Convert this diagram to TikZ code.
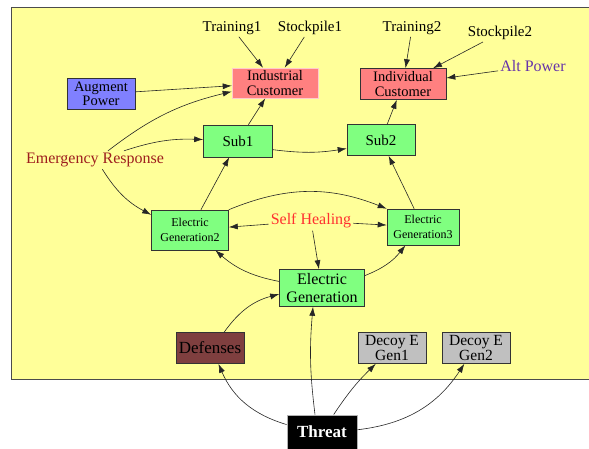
\documentclass[tikz,border=0pt]{standalone}
\usepackage{fontspec}
\setmainfont{Liberation Serif}
\usetikzlibrary{arrows.meta}

\definecolor{bgyellow}{HTML}{FFFF99}
\definecolor{boxgreen}{HTML}{80FF80}
\definecolor{boxpink}{HTML}{FF8080}
\definecolor{boxblue}{HTML}{8080FF}
\definecolor{boxbrown}{HTML}{7F3F3F}
\definecolor{boxgray}{HTML}{C0C0C0}
\definecolor{ertext}{HTML}{9E1E1E}
\definecolor{alttext}{HTML}{6633AA}
\definecolor{shtext}{HTML}{FF3030}

\begin{document}
\begin{tikzpicture}[x=1pt, y=-1pt, node distance=84pt, >={Latex[length=9pt,width=6pt]},
	every node/.style={font=\fontsize{15}{15}\selectfont, align=center, inner sep=2pt},
	box/.style={draw=black!80, line width=0.6pt, inner sep=0pt, minimum width=68pt, minimum height=31pt},
	twoline/.style={font=\fontsize{14.5}{14.5}\selectfont},
	green/.style={box, fill=boxgreen},
	small/.style={font=\fontsize{12}{14.5}\selectfont},
	decoy/.style={box, fill=boxgray, font=\fontsize{15.5}{15}\selectfont}]
		\useasboundingbox (0,0) rectangle (589,448);
		\draw[black!70, fill=bgyellow, line width=0.8pt] (11,7) rectangle (600,379);
		
		\node (t1) at (232,28) {Training1};
		\node (s1) at (310,28) {Stockpile1};
		\node (t2) at (412,28) {Training2};
		\node (s2) at (500,33) {Stockpile2};
		\node[text=alttext, font=\fontsize{16}{16}\selectfont] (alt) at (533,66) {Alt Power};
		\node[box, twoline, fill=boxpink, draw=white!60!boxpink, minimum width=86pt, minimum height=30pt] (ind) at (275,83) {Industrial\\Customer};
		\node[box, twoline, fill=boxpink, minimum width=86pt] (indv) at (403,84) {Individual\\Customer};
		\node[box, twoline, fill=boxblue] (aug) at (101,94) {Augment\\Power};
		\node[green, minimum width=69pt, minimum height=32pt] (sub1) at (238,141) {Sub1};
		\node[green] (sub2) at (381,140) {Sub2};
		\node[text=ertext, font=\fontsize{16}{16}\selectfont] (er) at (95,160) {Emergency Response};
		\node[green, small, minimum width=77pt, minimum height=40pt] (eg2) at (190,230) {Electric\\Generation2};
		\node[text=shtext, font=\fontsize{16}{16}\selectfont] (sh) at (311,221) {Self Healing};
		\node[green, small, minimum width=72pt, minimum height=36pt] (eg3) at (423,227) {Electric\\Generation3};
		\node[green, font=\fontsize{16}{17.5}\selectfont, minimum width=85pt, minimum height=37pt] (eg) at (322,288) {Electric\\Generation};
		\node[box, fill=boxbrown, font=\fontsize{17}{17}\selectfont] (def) at (210,348) {Defenses};
		\node[decoy] (d1) at (392,348) {Decoy E\\Gen1};
		\node[decoy] (d2) [right of=d1] {Decoy E\\Gen2};
		\node[fill=black, draw=gray!60, line width=1pt, text=white, font=\bfseries\fontsize{17}{17}\selectfont,
			minimum width=70pt, minimum height=34pt, inner sep=0pt] (threat) at (322,432) {Threat};
		
		\path[->, line width=0.6pt, black!85]
		(t1) edge (ind)
		(s1) edge (ind)
		(aug) edge (ind)
		(er) edge [bend left=12] (ind)
		(er) edge [bend left=10] (sub1)
		(er) edge [bend right=15] (eg2)
		(sub1) edge (ind)
		(sub1.-14) edge [bend right=8] (sub2.194)
		(sub2) edge (indv)
		(t2) edge (indv)
		(s2) edge (indv)
		(alt) edge (indv)
		(eg2) edge (sub1)
		(eg2.north east) edge [bend left=22] (eg3.north west)
		(sh) edge (eg2)
		(sh) edge (eg3)
		(sh) edge (eg)
		(eg) edge [bend left=15] (eg2)
		(eg) edge [bend right=15] (eg3)
		(eg3) edge (sub2)
		(def) edge [bend left=20] (eg)
		(threat) edge [bend left=25] (def)
		([xshift=-7pt]threat.north) edge [bend left=6] ([xshift=-9pt]eg.south)
		(threat) edge [bend left=6] (d1)
		(threat) edge [bend right=25] (d2);
	\end{tikzpicture}
\end{document}
